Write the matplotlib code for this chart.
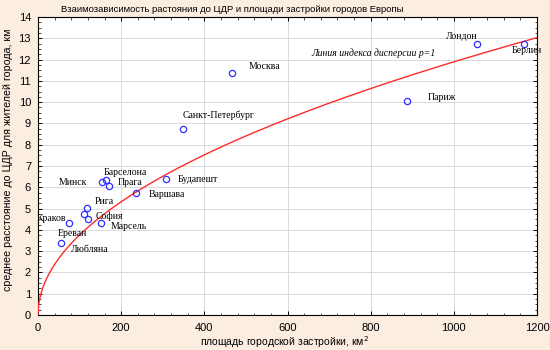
import numpy as np
import matplotlib
matplotlib.use("Agg")
import matplotlib.pyplot as plt
from matplotlib.ticker import MultipleLocator

cities = ["Москва", "Санкт-Петербург", "Лондон", "Берлин", "Париж",
          "Минск", "Барселона", "Прага", "Будапешт", "Варшава",
          "Рига", "Краков", "София", "Марсель", "Ереван", "Любляна"]
area = [467, 349, 1056, 1169, 887,
        153, 163, 171, 308, 235,
        119, 111, 121, 151, 75, 55]
dist = [11.39, 8.75, 12.71, 12.71, 10.07,
        6.26, 6.34, 6.07, 6.37, 5.71,
        5.04, 4.74, 4.49, 4.33, 4.30, 3.36]
# label offsets in pixels (dx, dy, ha)
offsets = [(16, 6, "left"), (-1, 13, "left"), (0, 8, "right"), (-12, -6, "left"), (21, 3, "left"),
           (-15, -1, "right"), (-2, 8, "left"), (9, 3, "left"), (12, 0, "left"), (13, -1, "left"),
           (7, 6, "left"), (-18, -4, "right"), (7, 3, "left"), (10, -4, "left"), (-11, -10, "left"), (10, -6, "left")]

xticks = [0, 200, 400, 600, 800, 1000, 1200]
yticks = list(range(0, 15))

bg = "#FBEDE0"
fig = plt.figure(figsize=(5.5, 3.5), dpi=100, facecolor=bg)
ax = fig.add_axes([38/550, 1-315/350, (537-38)/550, (315-17)/350])
ax.set_facecolor("white")

# theoretical dispersion line p=1: mean distance in a disc of area A
xs = np.linspace(0, 1200, 800)
ys = 2.0/3.0*np.sqrt(xs/np.pi)
ax.plot(xs, ys, color="#FF2A2A", lw=1.0, zorder=3)

ax.plot(area, dist, linestyle="none", marker="o", markersize=4.5,
        markerfacecolor="none", markeredgecolor="#3030FF", markeredgewidth=0.9, zorder=4)

for c, x, y, (dx, dy, ha) in zip(cities, area, dist, offsets):
    ax.annotate(c, (x, y), xytext=(dx, dy), textcoords="offset pixels",
                ha=ha, va="center", fontsize=7, family="Liberation Serif",
                color="black", annotation_clip=False, zorder=5)

ax.text(656, 12.28, "Линия индекса дисперсии p=1", fontsize=7, family="Liberation Serif",
        style="italic", ha="left", va="center")

ax.set_xlim(0, 1200)
ax.set_ylim(0, 14)
ax.set_xticks(xticks)
ax.set_yticks(yticks)
ax.xaxis.set_minor_locator(MultipleLocator(40))
ax.yaxis.set_minor_locator(MultipleLocator(0.25))
ax.tick_params(which="both", direction="in", top=True, right=True, color="black")
ax.tick_params(which="major", length=3, width=0.7, labelsize=8)
ax.tick_params(axis="x", which="major", pad=5.5)
ax.tick_params(axis="y", which="major", pad=5)
ax.tick_params(which="minor", length=1.8, width=0.5)
for lab in ax.get_xticklabels() + ax.get_yticklabels():
    lab.set_family("Liberation Sans")
ax.grid(True, which="major", color="#D9D9D9", lw=0.7)
ax.set_axisbelow(True)
for s in ax.spines.values():
    s.set_color("black")
    s.set_linewidth(0.8)

fig.text(232/550, 1-10/350, "Взаимозависимость растояния до ЦДР и площади застройки городов Европы",
         ha="center", va="center", fontsize=6.8, family="Liberation Sans")
fig.text(284/550, 1-342/350, "площадь городской застройки, км$^{2}$",
         ha="center", va="center", fontsize=7.5, family="Liberation Sans")
fig.text(8/550, 1-160/350, "среднее расстояние до ЦДР для жителей города, км",
         ha="center", va="center", rotation=90, fontsize=7.7, family="Liberation Sans")

fig.savefig("out.png", dpi=100, facecolor=bg)
